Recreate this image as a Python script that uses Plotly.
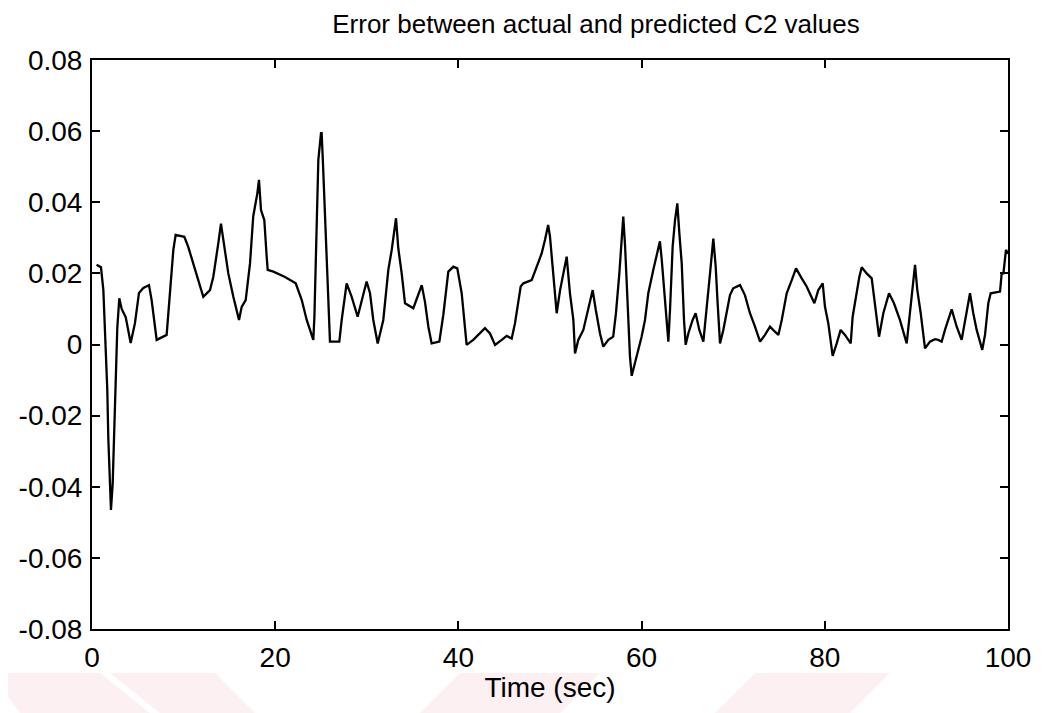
import plotly.graph_objects as go

time_sec = [0.5, 0.98, 1.24, 1.49, 1.67, 1.78, 1.97, 2.07, 2.26, 2.4, 2.58, 2.76, 2.98, 3.24, 3.68, 4.22, 4.69,
            5.13, 5.6, 6.22, 6.51, 7.06, 8.15, 8.52, 8.88, 9.13, 10.08, 10.5, 11.24, 12.15, 12.88, 13.24,
            13.79, 14.08, 14.34, 14.88, 15.43, 16.05, 16.34, 16.78, 17.25, 17.6, 18.05, 18.23, 18.45, 18.81,
            19.07, 19.18, 19.8, 21.07, 22.24, 22.9, 23.44, 24.16, 24.28, 24.42, 24.6, 24.71, 25.0, 25.07,
            25.2, 25.44, 25.7, 25.9, 25.98, 27.0, 27.26, 27.8, 28.35, 29.0, 29.44, 29.98, 30.35, 30.71,
            31.19, 31.8, 32.35, 32.72, 33.19, 33.44, 33.81, 34.17, 35.08, 35.45, 36.0, 36.35, 36.72, 37.08,
            37.92, 38.35, 38.9, 39.45, 39.88, 40.36, 40.72, 40.9, 41.62, 42.36, 42.9, 43.45, 44.0, 44.73,
            45.27, 45.82, 46.18, 46.8, 47.09, 48.0, 48.55, 49.09, 49.45, 49.8, 50.0, 50.37, 50.73, 51.1,
            51.45, 51.82, 52.18, 52.55, 52.73, 53.09, 53.64, 54.18, 54.66, 55.0, 55.46, 55.82, 56.37, 56.9,
            57.2, 57.57, 57.83, 58.0, 58.2, 58.37, 58.55, 58.73, 58.92, 59.46, 60.0, 60.37, 60.73, 61.28,
            61.82, 62.0, 62.2, 62.45, 62.74, 62.92, 63.1, 63.39, 63.65, 63.9, 64.12, 64.38, 64.63, 64.81,
            65.1, 65.57, 65.9, 66.3, 66.74, 67.1, 67.47, 67.83, 68.09, 68.3, 68.56, 68.92, 69.29, 69.65,
            70.0, 70.74, 71.28, 71.83, 72.38, 72.93, 73.47, 74.02, 74.56, 74.93, 75.3, 75.84, 76.39, 76.86,
            77.48, 78.02, 78.86, 79.29, 79.77, 80.02, 80.38, 80.86, 81.3, 81.73, 82.2, 82.83, 83.04, 83.4,
            83.77, 84.03, 84.57, 85.12, 85.48, 85.92, 86.39, 87.01, 87.55, 88.2, 88.94, 89.3, 89.59, 89.85,
            90.1, 90.47, 90.94, 91.48, 92.03, 92.39, 92.76, 93.12, 93.85, 94.4, 94.94, 95.3, 95.85, 96.21,
            96.58, 97.19, 97.49, 97.85, 98.11, 99.13, 99.31, 99.5, 99.78, 100.0]

error_c2 = [0.0224, 0.0217, 0.0153, 0.0013, -0.0128, -0.0263, -0.0395, -0.0465, -0.039, -0.0249, -0.010, 0.0046,
            0.013, 0.010, 0.0077, 0.0004, 0.006, 0.0145, 0.0159, 0.0167, 0.0125, 0.0013, 0.0027, 0.0145,
            0.0266, 0.0308, 0.0303, 0.0275, 0.021, 0.0134, 0.0153, 0.019, 0.0285, 0.034, 0.0294, 0.020,
            0.0134, 0.0069, 0.0106, 0.0125, 0.0228, 0.036, 0.0425, 0.0463, 0.0378, 0.035, 0.0247, 0.021,
            0.0205, 0.019, 0.0172, 0.0125, 0.0069, 0.0013, 0.0078, 0.0228, 0.0369, 0.0519, 0.0594, 0.0594,
            0.0519, 0.0364, 0.0228, 0.0078, 0.0008, 0.0008, 0.0069, 0.0172, 0.0134, 0.0078, 0.012, 0.0177,
            0.0144, 0.0069, 0.0003, 0.0069, 0.021, 0.0266, 0.0355, 0.027, 0.020, 0.0116, 0.0102, 0.013,
            0.0167, 0.012, 0.005, 0.0003, 0.0008, 0.0083, 0.0205, 0.0219, 0.0214, 0.0144, 0.005, -0.0001,
            0.0013, 0.0031, 0.0046, 0.0031, -0.0001, 0.0013, 0.0024, 0.0017, 0.006, 0.0163, 0.0172, 0.0181,
            0.0219, 0.0256, 0.0294, 0.0336, 0.0303, 0.019, 0.0088, 0.0153, 0.020, 0.0247, 0.0144, 0.0069,
            -0.0025, 0.0013, 0.0041, 0.0097, 0.0153, 0.0097, 0.0031, -0.0006, 0.0013, 0.0022, 0.0088, 0.020,
            0.0313, 0.036, 0.0275, 0.0181, 0.0069, -0.0034, -0.0088, -0.0034, 0.0022, 0.0069, 0.0144, 0.021,
            0.0275, 0.029, 0.0238, 0.0153, 0.0078, 0.0008, 0.0097, 0.0275, 0.035, 0.0397, 0.0313, 0.0228,
            0.0069, -0.0001, 0.0031, 0.0069, 0.0088, 0.0041, 0.0008, 0.0097, 0.020, 0.0298, 0.0219, 0.0116,
            0.0003, 0.0041, 0.0088, 0.0139, 0.0158, 0.0167, 0.0139, 0.0088, 0.005, 0.0008, 0.0027, 0.005,
            0.0036, 0.0027, 0.0069, 0.0144, 0.0181, 0.0214, 0.0186, 0.0163, 0.0116, 0.0153, 0.0172, 0.0106,
            0.006, -0.0032, 0.0003, 0.0041, 0.0027, 0.0003, 0.0078, 0.0139, 0.019, 0.0217, 0.020, 0.0186,
            0.0106, 0.0022, 0.0088, 0.0144, 0.0116, 0.0069, 0.0003, 0.0088, 0.0144, 0.0224, 0.0153, 0.0088,
            -0.0011, 0.0008, 0.0015, 0.0013, 0.0008, 0.0041, 0.0099, 0.005, 0.0013, 0.0069, 0.0144, 0.0088,
            0.0041, -0.0015, 0.0027, 0.0116, 0.0144, 0.0149, 0.020, 0.020, 0.0266, 0.0255]

x_ticks = [0, 20, 40, 60, 80, 100]
y_ticks = [-0.08, -0.06, -0.04, -0.02, 0, 0.02, 0.04, 0.06, 0.08]
y_tick_labels = ["-0.08", "-0.06", "-0.04", "-0.02", "0", "0.02", "0.04", "0.06", "0.08"]

FONT = "Liberation Sans, Arial, Helvetica, sans-serif"
# page body has an 8px margin, so the figure is drawn 8px in from the window edge
OFF = 8
W, H = 1043 - OFF, 713 - OFF
L, T, R, B = 92 - OFF, 60 - OFF, 35, 84
pw, ph = W - L - R, H - T - B

fig = go.Figure()
fig.add_trace(go.Scatter(x=time_sec, y=error_c2, mode="lines",
                         line=dict(color="black", width=2.3), showlegend=False))

# faint pink watermark bands along the bottom edge (window pixel coords)
bands = [[(-10, 673), (100, 673), (150, 713), (20, 713)],
         [(110, 673), (215, 673), (255, 713), (160, 713)],
         [(460, 673), (600, 673), (560, 713), (420, 713)],
         [(755, 673), (890, 673), (850, 713), (715, 713)]]
shapes = []
for band in bands:
    path = "M " + " L ".join(f"{(x - OFF - L) / pw:.4f},{(H - B - (y - OFF)) / ph:.4f}"
                             for x, y in band) + " Z"
    shapes.append(dict(type="path", xref="paper", yref="paper", path=path,
                       fillcolor="#fdf0f2", line=dict(width=0), layer="below"))

fig.update_layout(
    width=W, height=H,
    paper_bgcolor="white", plot_bgcolor="rgba(0,0,0,0)",
    margin=dict(l=L, r=R, t=T, b=B, autoexpand=False),
    title=dict(text="Error between actual and predicted C2 values", x=(596 - OFF) / W, xanchor="center",
               xref="container", y=1 - (24 - OFF) / H, yanchor="middle", yref="container",
               font=dict(family=FONT, size=26, color="black")),
    font=dict(family=FONT, color="black"),
    shapes=shapes,
)
fig.update_xaxes(range=[0, 100], tickvals=x_ticks, ticks="inside", ticklen=8, tickwidth=1.5,
                 tickcolor="black", showline=True, linecolor="black", linewidth=2, mirror="ticks",
                 showgrid=False, zeroline=False, tickfont=dict(family=FONT, size=28),
                 ticklabelstandoff=2, automargin=False,
                 title=dict(text="Time (sec)", font=dict(family=FONT, size=28), standoff=6))
fig.update_yaxes(range=[-0.08, 0.08], tickvals=y_ticks, ticktext=y_tick_labels, ticks="inside",
                 ticklen=8, tickwidth=1.5, tickcolor="black", showline=True, linecolor="black",
                 linewidth=2, mirror="ticks", showgrid=False, zeroline=False,
                 ticklabelstandoff=2, automargin=False,
                 tickfont=dict(family=FONT, size=28))

fig.write_html("out.html")
